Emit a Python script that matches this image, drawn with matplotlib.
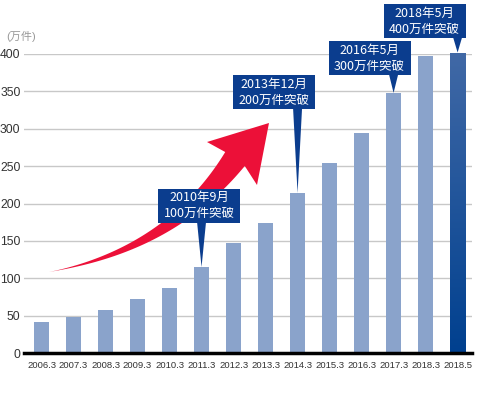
import numpy as np
import matplotlib
matplotlib.use("Agg")
import matplotlib.pyplot as plt
from matplotlib.patches import Polygon, Rectangle
from matplotlib.colors import LinearSegmentedColormap

plt.rcParams['font.family'] = ['Liberation Sans', 'Noto Sans CJK JP', 'DejaVu Sans']

W, H = 480, 398

periods = ["2006.3", "2007.3", "2008.3", "2009.3", "2010.3", "2011.3", "2012.3",
           "2013.3", "2014.3", "2015.3", "2016.3", "2017.3", "2018.3", "2018.5"]
counts = [41, 48, 58, 72, 87, 115, 147, 174, 214, 254, 294, 348, 397, 402]
yticks = [0, 50, 100, 150, 200, 250, 300, 350, 400]

# callouts: which bar they point at, text, and box centre offset from the bar top
callout_bars = [5, 8, 11, 13]
callout_labels = ["2010年9月\n100万件突破", "2013年12月\n200万件突破",
                  "2016年5月\n300万件突破", "2018年5月\n400万件突破"]
callout_dx = [-0.08, -0.73, -0.75, -1.03]
callout_dy = [82, 135, 46, 42]

bar_color = '#8aa3cb'
box_color = '#0b3d8e'
arrow_color = '#ec1038'

fig = plt.figure(figsize=(W / 100, H / 100), dpi=100)
ax = fig.add_axes([24 / W, 45 / H, 448 / W, 299 / H])

x = np.arange(len(periods))
bars = ax.bar(x, counts, width=0.47, color=bar_color, zorder=2)

# last bar gets a dark blue gradient
last = bars[-1]
grad = LinearSegmentedColormap.from_list('g', ['#00408f', '#4169a6'])
bx, bw = last.get_x(), last.get_width()
im = ax.imshow(np.linspace(0, 1, 256).reshape(-1, 1), cmap=grad, origin='lower',
               extent=[bx, bx + bw, 0, counts[-1]], aspect='auto', zorder=2.1)
im.set_clip_path(last)

ax.set_xlim(-0.547, 13.45)
ax.set_ylim(0, 400)
ax.set_yticks(yticks)
ax.set_xticks(x)
ax.set_xticklabels(periods, fontsize=6.8, color='#333333')
ax.tick_params(axis='y', length=0, pad=2.5, labelsize=8.7, labelcolor='#333333')
ax.tick_params(axis='x', length=0, pad=6)
ax.grid(axis='y', color='#c8c8c8', linewidth=1)
ax.set_axisbelow(True)
for s in ['top', 'right', 'left']:
    ax.spines[s].set_visible(False)
ax.spines['bottom'].set_linewidth(2.5)
ax.spines['bottom'].set_color('black')
ax.spines['bottom'].set_zorder(3)

fig.text(6 / W, 1 - 36 / H, "(万件)", fontsize=8, color='#999999', va='center', ha='left')

# red growth arrow (decoration), built in figure pixels
t = np.linspace(0, 1, 60)
p0, p1, p2 = np.array([49., 272.]), np.array([170., 250.]), np.array([235., 159.])
c = ((1 - t) ** 2)[:, None] * p0 + (2 * (1 - t) * t)[:, None] * p1 + (t ** 2)[:, None] * p2
d = (2 * (1 - t))[:, None] * (p1 - p0) + (2 * t)[:, None] * (p2 - p1)
nrm = np.stack([d[:, 1], -d[:, 0]], 1)
nrm /= np.linalg.norm(nrm, axis=1)[:, None]
w = 24 * t ** 1.3
upper = c + nrm * (w / 2)[:, None]
lower = c - nrm * (w / 2)[:, None]
head = np.array([[207., 142.], [269., 123.], [257., 185.]])
pts = np.vstack([upper, head, lower[::-1]])
pts = np.column_stack([pts[:, 0] / W, 1 - pts[:, 1] / H])
ax.add_patch(Polygon(pts, closed=True, facecolor=arrow_color, edgecolor='none',
                     transform=fig.transFigure, clip_on=False, zorder=4))

# callout boxes
box_w, box_h = 2.56, 45.5
for i, lab, dx, dy in zip(callout_bars, callout_labels, callout_dx, callout_dy):
    cx, cy = x[i] + dx, counts[i] + dy
    ax.add_patch(Rectangle((cx - box_w / 2, cy - box_h / 2), box_w, box_h,
                           facecolor=box_color, edgecolor='none', clip_on=False, zorder=5))
    base = cy - box_h / 2 + 1
    ax.add_patch(Polygon([[x[i] - 0.14, base], [x[i] + 0.14, base], [x[i], counts[i]]],
                         closed=True, facecolor=box_color, edgecolor='none',
                         clip_on=False, zorder=5))
    ax.text(cx, cy, lab, color='white', fontsize=9, ha='center', va='center',
            linespacing=1.3, family=['Noto Sans CJK JP', 'DejaVu Sans'], zorder=6)

fig.savefig('out.png', dpi=100)
